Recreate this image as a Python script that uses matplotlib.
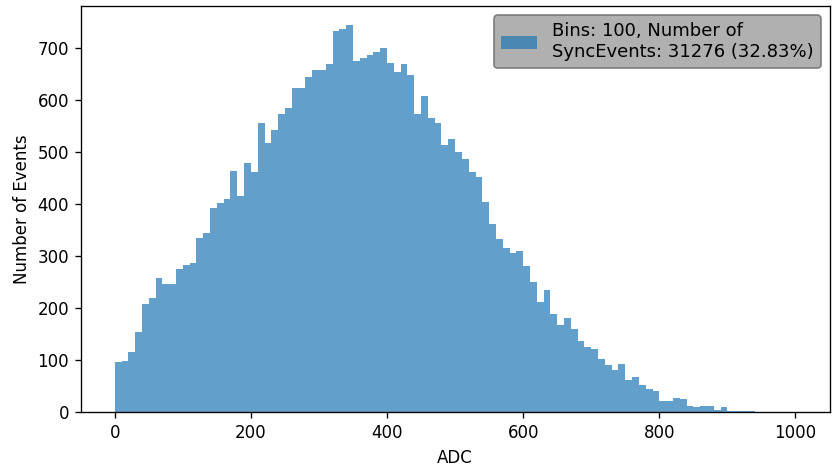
import matplotlib
matplotlib.use('Agg')
import matplotlib.pyplot as plt
import numpy as np

# counts per ADC bin (100 bins, width 10, from 0 to 1000)
counts = [97, 99, 116, 154, 208, 220, 258, 247, 247, 275,
          283, 286, 335, 345, 392, 403, 409, 463, 416, 478,
          462, 556, 518, 542, 572, 584, 622, 622, 644, 658,
          658, 668, 733, 737, 743, 674, 681, 686, 691, 699,
          671, 654, 668, 648, 573, 607, 565, 556, 514, 525,
          499, 487, 462, 452, 404, 361, 332, 315, 307, 309,
          281, 251, 212, 235, 189, 168, 182, 160, 137, 125,
          122, 103, 91, 82, 93, 63, 68, 53, 45, 42,
          22, 22, 27, 25, 13, 11, 13, 13, 5, 10,
          2, 2, 2, 2, 0, 0, 0, 0, 0, 0]
n_bins = 100
adc_min, adc_max = 0, 1000
n_sync = 31276
sync_frac = 32.83

edges = np.linspace(adc_min, adc_max, n_bins + 1)
label = 'Bins: %d, Number of\nSyncEvents: %d (%.2f%%)' % (n_bins, n_sync, sync_frac)

fig, ax = plt.subplots(figsize=(832/120, 466/120), dpi=120)
fig.subplots_adjust(left=0.097, right=0.997, top=0.987, bottom=0.115)

ax.hist(edges[:-1], bins=edges, weights=counts, alpha=0.7, label=label)
ax.set_xlabel('ADC')
ax.set_ylabel('Number of Events')
ax.legend(loc='upper right', fontsize=10.8, facecolor='#a8a8a8', edgecolor='0.45', framealpha=0.9)

fig.savefig('out.png', dpi=120)
